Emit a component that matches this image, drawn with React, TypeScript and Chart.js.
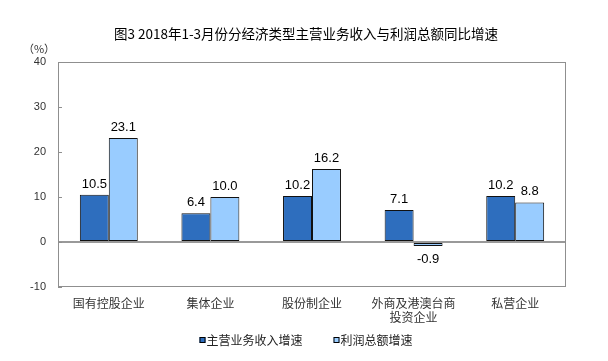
import React, { useEffect, useRef } from "react";
import { Chart, registerables } from "chart.js";

Chart.register(...registerables);

const titleText = "图3 2018年1-3月份分经济类型主营业务收入与利润总额同比增速";
const unitText = "（%）";
const categories: string[][] = [
  ["国有控股企业"],
  ["集体企业"],
  ["股份制企业"],
  ["外商及港澳台商", "投资企业"],
  ["私营企业"],
];
const seriesNames = ["主营业务收入增速", "利润总额增速"];
const revenueGrowth = [10.5, 6.4, 10.2, 7.1, 10.2];
const profitGrowth = [23.1, 10.0, 16.2, -0.9, 8.8];
const yMin = -10;
const yMax = 40;
const yStep = 10;

const DARK = "#2E6EBE";
const LIGHT = "#99CCFF";
const CJK = "'Noto Sans CJK SC', 'Noto Sans', sans-serif";
const NUM = "'Liberation Sans', Arial, sans-serif";

const decorPlugin = {
  id: "decor",
  afterDraw(chart: any) {
    const { ctx, chartArea } = chart;
    const { left, right, top, bottom } = chartArea;
    ctx.save();
    // plot border
    ctx.strokeStyle = "#8f8f8f";
    ctx.lineWidth = 1;
    ctx.strokeRect(left + 0.5, top + 0.5, right - left - 1, bottom - top - 1);
    // inner ticks
    const ys = chart.scales.y;
    ys.ticks.forEach((t: any) => {
      const py = Math.round(ys.getPixelForValue(t.value)) + 0.5;
      ctx.beginPath();
      ctx.moveTo(left, py);
      ctx.lineTo(left + 4, py);
      ctx.stroke();
    });
    // title
    ctx.fillStyle = "#000";
    ctx.font = `13.5px ${CJK}`;
    ctx.textAlign = "center";
    ctx.textBaseline = "middle";
    ctx.fillText(titleText, 306, 34);
    // unit
    ctx.font = `11px ${CJK}`;
    ctx.fillStyle = "#333";
    ctx.fillText(unitText, 39, 49);
    // data labels
    ctx.font = `13px ${NUM}`;
    ctx.fillStyle = "#000";
    ctx.textAlign = "center";
    ctx.textBaseline = "alphabetic";
    chart.data.datasets.forEach((ds: any, di: number) => {
      const meta = chart.getDatasetMeta(di);
      meta.data.forEach((bar: any, i: number) => {
        const v = ds.data[i];
        const txt = v.toFixed(1);
        if (v >= 0) ctx.fillText(txt, bar.x, bar.y - 7);
        else ctx.fillText(txt, bar.x, bar.y + 17);
      });
    });
    // legend
    ctx.font = `12px ${CJK}`;
    ctx.textAlign = "left";
    ctx.textBaseline = "middle";
    const box = 6;
    const gapBoxText = 1;
    const gapItems = 31;
    const widths = seriesNames.map((n) => box + gapBoxText + ctx.measureText(n).width);
    const total = widths.reduce((a, b) => a + b, 0) + gapItems * (seriesNames.length - 1);
    let x = 306 - total / 2;
    const ly = 340;
    chart.data.datasets.forEach((ds: any, di: number) => {
      ctx.fillStyle = ds.backgroundColor;
      ctx.fillRect(x, ly - box / 2, box, box);
      ctx.strokeStyle = "#000";
      ctx.lineWidth = 1;
      ctx.strokeRect(x + 0.5, ly - box / 2 + 0.5, box - 1, box - 1);
      ctx.fillStyle = "#222";
      ctx.fillText(seriesNames[di], x + box + gapBoxText, ly);
      x += widths[di] + gapItems;
    });
    ctx.restore();
  },
};

export default function App() {
  const ref = useRef<HTMLCanvasElement | null>(null);
  useEffect(() => {
    if (!ref.current) return;
    const chart = new Chart(ref.current, {
      type: "bar",
      data: {
        labels: categories,
        datasets: [
          {
            label: seriesNames[0],
            data: revenueGrowth,
            backgroundColor: DARK,
            borderColor: "#111",
            borderWidth: 1,
            borderSkipped: false,
            barPercentage: 1,
            categoryPercentage: 0.57,
          },
          {
            label: seriesNames[1],
            data: profitGrowth,
            backgroundColor: LIGHT,
            borderColor: "#111",
            borderWidth: 1,
            borderSkipped: false,
            barPercentage: 1,
            categoryPercentage: 0.57,
          },
        ],
      },
      options: {
        responsive: false,
        animation: false,
        layout: { padding: { top: 62, left: 0, right: 42, bottom: 0 } },
        plugins: {
          legend: { display: false },
          title: { display: false },
          tooltip: { enabled: false },
        },
        scales: {
          x: {
            grid: { display: false, drawTicks: false },
            border: { display: false },
            ticks: {
              color: "#333",
              font: { family: CJK, size: 12 },
              padding: 9,
              maxRotation: 0,
              autoSkip: false,
            },
            afterFit: (s: any) => {
              s.height = 74;
            },
          },
          y: {
            min: yMin,
            max: yMax,
            grid: {
              drawTicks: false,
              color: (c: any) => (c.tick && c.tick.value === 0 ? "#999" : "rgba(0,0,0,0)"),
              lineWidth: (c: any) => (c.tick && c.tick.value === 0 ? 2 : 0),
            },
            border: { display: false },
            ticks: {
              stepSize: yStep,
              color: "#333",
              font: { family: NUM, size: 11 },
              padding: 12,
            },
            afterFit: (s: any) => {
              s.width = 58;
            },
          },
        },
      },
      plugins: [decorPlugin],
    });
    return () => chart.destroy();
  }, []);
  return (
    <div style={{ position: "fixed", left: 0, top: 0, width: 608, height: 361, background: "#fff" }}>
      <canvas ref={ref} width={608} height={361} />
    </div>
  );
}
